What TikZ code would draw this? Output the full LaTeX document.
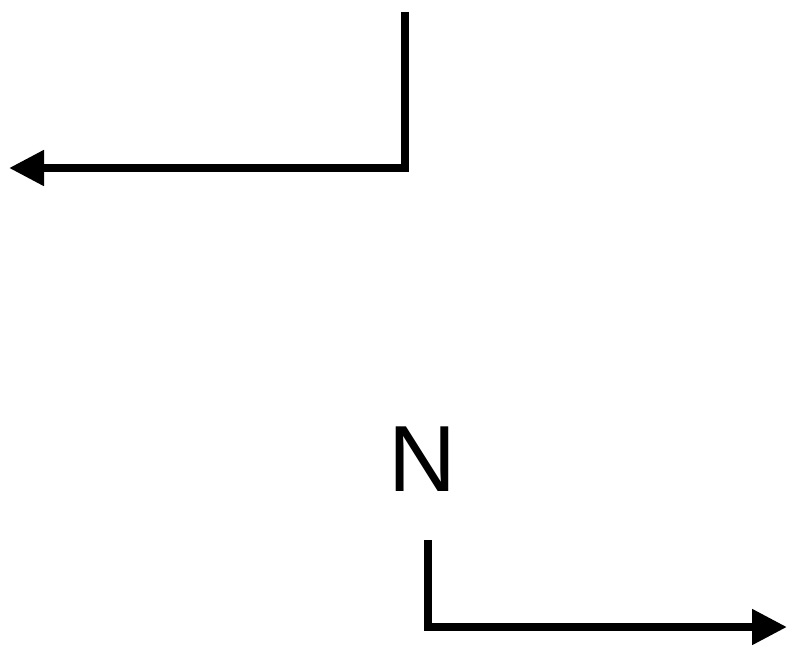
\documentclass[tikz,border=0pt]{standalone}
\usepackage{fontspec}
\setmainfont{Liberation Sans}
\usetikzlibrary{arrows.meta}

\tikzset{
    turn/.style={line width=8pt, line join=miter,
        -{Triangle[length=35pt,width=34pt]}},
}

\begin{document}
\begin{tikzpicture}[x=1pt, y=-1pt]
        \useasboundingbox (0,0) rectangle (794,657);

        \coordinate (Atop) at (405,12);
        \coordinate (Aend) at (9,168);
        \draw[turn] (Atop) |- (Aend);

        \node (N) at (422,459) {\fontsize{94}{94}\selectfont N};

        \coordinate (Btop) at (428,540);
        \coordinate (Bend) at (787,627);
        \draw[turn] (Btop) |- (Bend);

    \end{tikzpicture}
\end{document}
